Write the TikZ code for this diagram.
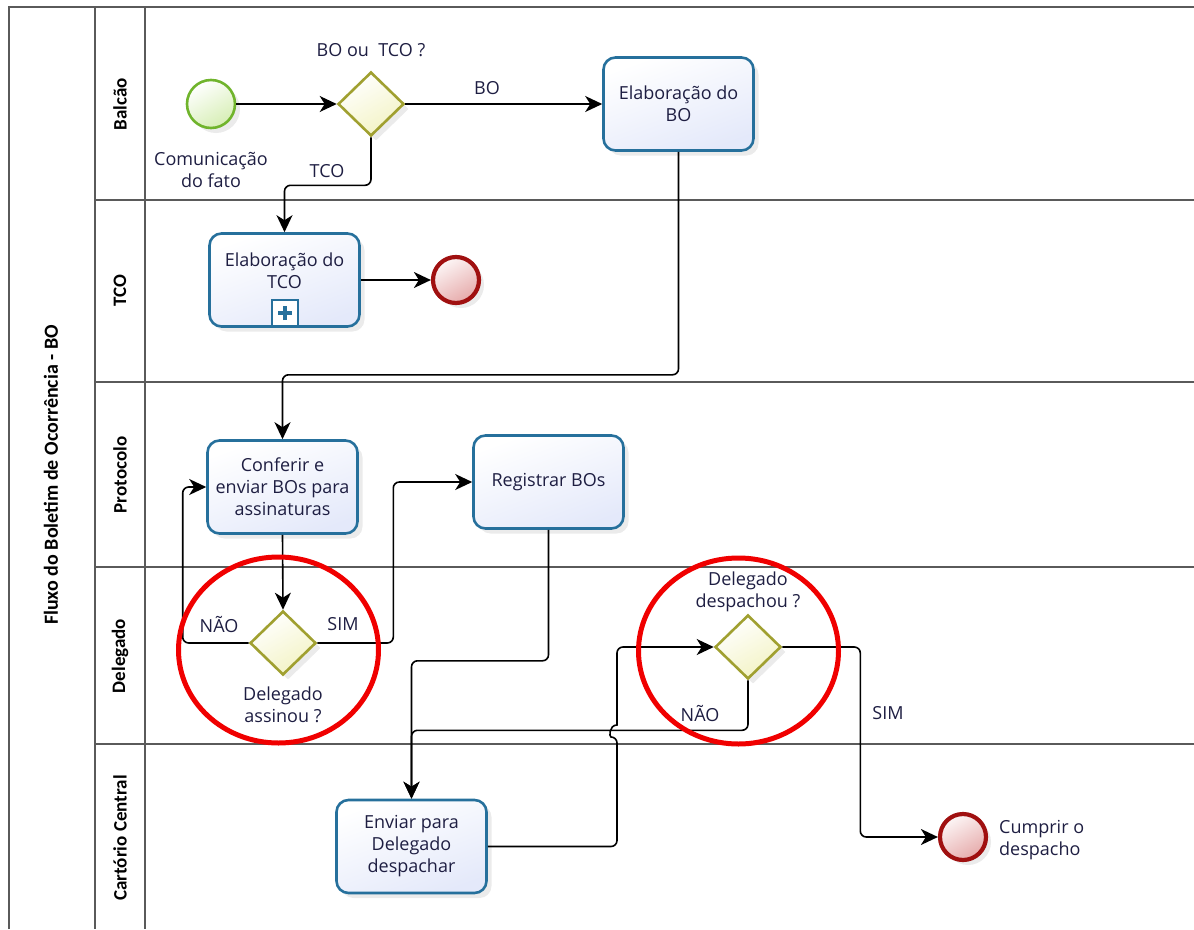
\documentclass[tikz,border=0pt]{standalone}
\usepackage{fontspec}
\setmainfont{Open Sans}
\newfontfamily\lanefont{Carlito}
\usetikzlibrary{arrows.meta,shapes.geometric,shadows}

\definecolor{taskline}{RGB}{38,112,156}
\definecolor{taskfill}{RGB}{228,233,250}
\definecolor{gwline}{RGB}{160,160,48}
\definecolor{gwfill}{RGB}{243,243,196}
\definecolor{startline}{RGB}{112,180,44}
\definecolor{startfill}{RGB}{214,238,180}
\definecolor{endline}{RGB}{160,16,16}
\definecolor{endfill}{RGB}{230,170,170}
\definecolor{txt}{RGB}{30,30,66}
\definecolor{laneline}{RGB}{90,90,90}
\definecolor{ring}{RGB}{240,0,0}

\begin{document}
\begin{tikzpicture}[x=1pt,y=-1pt,
  every node/.style={text=txt, font=\fontsize{18}{22}\selectfont, align=center, inner sep=1pt},
  softshadow/.style={drop shadow={opacity=0.16, shadow xshift=5pt, shadow yshift=-5pt}},
  task/.style={draw=taskline, line width=2.6pt, rounded corners=12pt,
    top color=white, bottom color=taskfill, shading angle=20,
    minimum width=150pt, minimum height=93pt, softshadow},
  gateway/.style={shape=diamond, draw=gwline, line width=2.6pt, inner sep=0pt,
    minimum width=66pt, minimum height=64pt,
    top color=white, bottom color=gwfill, shading angle=30, softshadow},
  startev/.style={circle, draw=startline, line width=2.6pt, inner sep=0pt,
    minimum size=48pt, top color=white, bottom color=startfill, shading angle=30, softshadow},
  endev/.style={circle, draw=endline, line width=4.2pt, inner sep=0pt,
    minimum size=46pt, top color=white!90!endfill, bottom color=endfill, shading angle=30, softshadow},
  flow/.style={draw=black, line width=1.6pt, rounded corners=6pt,
    -{Stealth[length=17pt, width=16pt, inset=5pt]}},
  lanelabel/.style={text=black, font=\lanefont\bfseries\fontsize{19}{22}\selectfont, rotate=90},
  poolline/.style={draw=laneline, line width=1.8pt},
  ringmark/.style={draw=ring, line width=5pt}
]
\useasboundingbox (0,0) rectangle (1194,929);

% pool and lanes
\draw[poolline] (9,929) -- (9,7) -- (1194,7);
\draw[poolline] (95,7) -- (95,929);
\draw[poolline] (145,7) -- (145,929);
\foreach \ly in {200,382,567,744} \draw[poolline] (95,\ly) -- (1194,\ly);

\node[lanelabel, font=\lanefont\bfseries\fontsize{20}{22}\selectfont] (poolTitle) at (51,475) {Fluxo do Boletim de Ocorrência - BO};
\node[lanelabel] (laneBalcao) at (120,104) {Balcão};
\node[lanelabel] (laneTCO) at (120,291) {TCO};
\node[lanelabel] (laneProtocolo) at (120,475) {Protocolo};
\node[lanelabel] (laneDelegado) at (120,656) {Delegado};
\node[lanelabel] (laneCartorio) at (120,838) {Cartório Central};

% events, gateways and tasks
\node[startev] (start) at (211,104) {};
\node (startText) at (211,170) {Comunicação\\do fato};

\node[gateway] (g1) at (371,104) {};
\node (g1Text) at (371,50) {BO ou\ \ TCO ?};

\node[task] (boTask) at (678.5,104) {Elaboração do\\BO};

\node[task] (tcoTask) at (284.5,280) {};
\node (tcoText) at (284.5,271) {Elaboração do\\TCO};
\node[draw=taskline, line width=2.2pt, fill=white, minimum size=26pt, inner sep=0pt] (tcoMarker) at (285,313) {};
\draw[taskline, line width=4.5pt] ([xshift=-7pt]tcoMarker.center) -- ([xshift=7pt]tcoMarker.center);
\draw[taskline, line width=4.5pt] ([yshift=-7pt]tcoMarker.center) -- ([yshift=7pt]tcoMarker.center);

\node[endev] (end1) at (456,280) {};

\node[task] (conf) at (282.5,487) {Conferir e\\enviar BOs para\\assinaturas};
\node[task] (reg) at (548.5,482) {Registrar BOs};

\node[gateway] (g2) at (283,643) {};
\node (g2Text) at (283,705) {Delegado\\assinou ?};

\node[gateway] (g3) at (748,647) {};
\node (g3Text) at (748,592) {Delegado\\despachou ?};

\node[task] (env) at (411.5,846.5) {Enviar para\\Delegado\\despachar};

\node[endev] (end2) at (963,837) {};
\node[anchor=west, align=left] (end2Text) at (998,840) {Cumprir o\\despacho};

% sequence flows
\draw[flow] (start.east) -- (g1.west);
\draw[flow] (g1.east) -- (boTask.west);
\node (lblBO) at (487,88) {BO};
\draw[flow] (g1.south) -- ++(0,48) -| (tcoTask.north);
\node (lblTCO) at (327,171) {TCO};
\draw[flow] (tcoTask.east) -- (end1.west);
\draw[flow] (boTask.south) -- ++(0,223) -| (conf.north);
\draw[flow] (conf.south) -- (g2.north);
\draw[flow] (g2.west) -- ++(-66,0) |- (conf.west);
\node (lblNao1) at (219,624) {NÃO};
\draw[flow] (g2.east) -- ++(76,0) |- (reg.west);
\node (lblSim1) at (343,624) {SIM};
\draw[flow] (reg.south) -- ++(0,131) -| (env.north);
\draw[flow] (g3.south) -- ++(0,50) -| (env.north);
\node (lblNao2) at (700,713) {NÃO};

% flow from the task back up to the gateway, hopping over the crossing line
\coordinate (hop) at (617,731);
\draw[flow] (env.east) -| ([yshift=-6pt]hop) [sharp corners]
  .. controls +(-8,0) and +(-8,0) .. ++(0,-12) [rounded corners=6pt] |- (g3.west);

\draw[flow] (g3.east) -- ++(78,0) |- (end2.west);
\node (lblSim2) at (888,713) {SIM};

% highlight rings
\draw[ringmark] (278.5,650) ellipse[x radius=100, y radius=93];
\draw[ringmark] (738.5,651) ellipse[x radius=100, y radius=93];
\end{tikzpicture}
\end{document}
